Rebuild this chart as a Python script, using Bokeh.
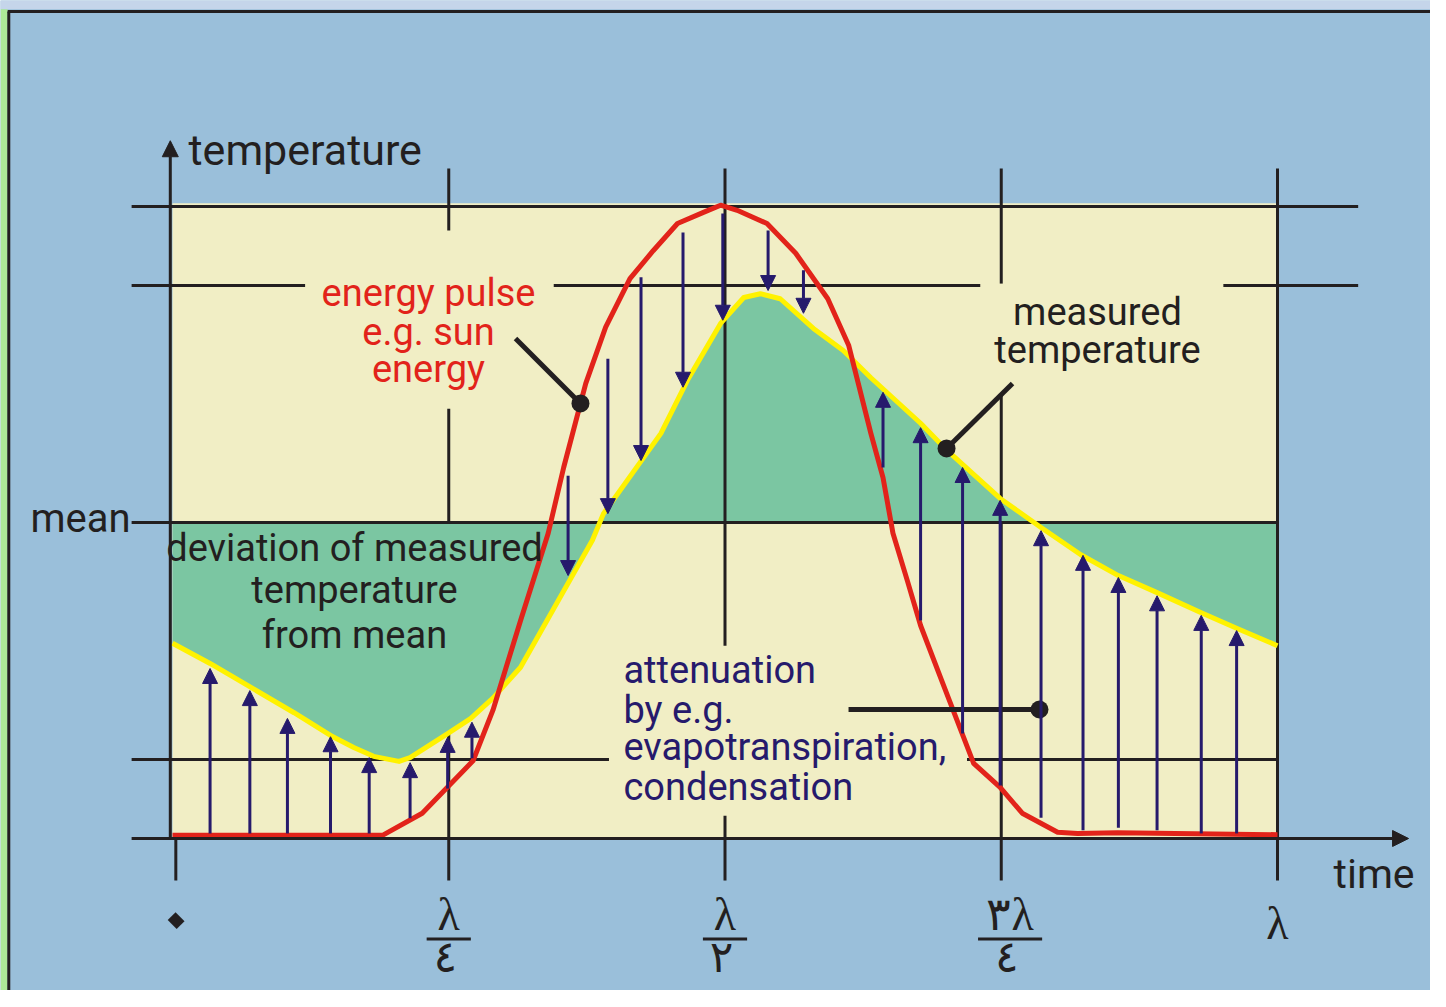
import math
from bokeh.plotting import figure
from bokeh.models import Range1d, ColumnDataSource, Arrow, NormalHead
from bokeh.core.properties import value
from bokeh.embed import file_html
from bokeh.resources import INLINE

# ---------------- data (time as fraction of the period λ, temperature in arbitrary units) -------------
pulse_t = [0.0, 0.190, 0.226, 0.272, 0.290, 0.315, 0.340, 0.354, 0.374, 0.392, 0.414, 0.435,
           0.457, 0.481, 0.496, 0.511, 0.538, 0.564, 0.593, 0.612, 0.632, 0.643, 0.652, 0.665,
           0.677, 0.695, 0.725, 0.749, 0.769, 0.801, 0.819, 0.855, 1.0]
pulse_v = [0.5, 0.5, 4.0, 12.3, 20.3, 34.5, 48.3, 58.7, 72.0, 80.9, 88.6, 93.0,
           97.3, 99.1, 100.2, 99.4, 97.3, 92.6, 85.4, 78.0, 64.1, 57.1, 48.3, 40.8,
           33.7, 25.5, 11.9, 8.1, 4.0, 1.0, 0.8, 0.9, 0.6]

meas_t = [0.0, 0.034, 0.071, 0.110, 0.143, 0.164, 0.182, 0.205, 0.215, 0.249, 0.270, 0.290,
          0.315, 0.338, 0.380, 0.390, 0.442, 0.466, 0.496, 0.517, 0.532, 0.550, 0.580, 0.607,
          0.632, 0.677, 0.701, 0.749, 0.786, 0.822, 0.856, 0.891, 0.930, 0.964, 1.0]
meas_v = [30.9, 27.7, 23.9, 19.9, 16.3, 14.4, 13.0, 12.2, 12.8, 16.6, 19.0, 22.2,
          27.1, 34.2, 47.2, 51.4, 64.1, 72.5, 81.5, 85.6, 86.2, 85.4, 80.7, 77.2,
          72.9, 65.7, 61.4, 53.8, 49.2, 44.9, 41.6, 38.9, 35.8, 33.2, 30.5]

mean_level = 50.0

arrow_t = [0.034, 0.070, 0.104, 0.143, 0.178, 0.215, 0.249, 0.271,
           0.358, 0.394, 0.424, 0.462, 0.498, 0.539, 0.571,
           0.643, 0.677, 0.715, 0.749, 0.786, 0.824, 0.856, 0.891, 0.931, 0.963]
arrow_from = [0.8, 0.8, 0.8, 0.8, 0.8, 3.2, 7.9, 12.7,
              57.4, 75.9, 88.8, 95.9, 98.9, 96.2, 89.9,
              58.7, 34.5, 16.6, 8.4, 3.3, 1.3, 1.7, 1.3, 0.8, 0.8]
arrow_to = [26.9, 23.4, 19.0, 16.1, 12.8, 12.0, 16.0, 18.4,
            41.6, 51.4, 59.8, 71.4, 82.0, 86.7, 83.1,
            70.6, 65.0, 58.7, 53.5, 48.7, 44.8, 41.3, 38.4, 35.3, 32.9]

tick_t = [0.0, 0.25, 0.5, 0.75, 1.0]
tick_labels = ["٠", "λ/٤", "λ/٢", "٣λ/٤", "λ"]

grid_levels = [0.0, 12.5, 50.0, 87.5, 100.0]

# ---------------- styles -------------
BLUE = "#9abfda"
BEIGE = "#f1eec5"
GREEN = "#7bc6a2"
YELLOW = "#fff200"
RED = "#e2231a"
NAVY = "#261a6c"
INK = "#231f20"
FONT = value("Roboto")
PX_PER_UNIT = 6.32          # vertical scale used to lift text baselines by a fraction of the font size

X0, X1 = -0.15566, 1.13846
Y0, Y1 = -24.05, 132.59

p = figure(width=1430, height=990, x_range=Range1d(X0, X1), y_range=Range1d(Y0, Y1),
           output_backend="svg", toolbar_location=None,
           x_axis_location=None, y_axis_location=None, min_border=0,
           background_fill_color=BLUE, border_fill_color=BLUE, outline_line_color=None)
p.grid.visible = False

# surrounding strips and frame edges of the illustration
p.quad(left=[X0], right=[X1], bottom=[131.2], top=[Y1], fill_color="#c5d5ea", line_color=None)
p.quad(left=[X0], right=[X0 + 0.0065], bottom=[Y0], top=[131.2], fill_color="#aeea98", line_color=None)
p.segment(x0=[X0 + 0.0065, X0 + 0.0075], y0=[130.85, Y0], x1=[X1, X0 + 0.0075], y1=[130.85, 130.85],
          line_color=INK, line_width=3)

# plot area
p.quad(left=[0], right=[1.0], bottom=[grid_levels[0]], top=[grid_levels[-1] + 0.5],
       fill_color=BEIGE, line_color=None)

# grid lines beneath the deviation fill (gaps leave room for the labels)
L, R, RR = -0.037, 1.0, 1.073
VTOP, VBOT = 106.0, -6.65
p.segment(x0=[L, L, 0.345, 0.951, L, 0.719],
          x1=[RR, 0.120, 0.731, RR, 0.395, R],
          y0=[grid_levels[4], grid_levels[3], grid_levels[3], grid_levels[3], grid_levels[1], grid_levels[1]],
          y1=[grid_levels[4], grid_levels[3], grid_levels[3], grid_levels[3], grid_levels[1], grid_levels[1]],
          line_color=INK, line_width=3)
p.segment(x0=[tick_t[1], tick_t[1], tick_t[3], tick_t[3]],
          x1=[tick_t[1], tick_t[1], tick_t[3], tick_t[3]],
          y0=[VTOP, 68.0, VTOP, 70.3], y1=[96.2, VBOT, 87.8, VBOT],
          line_color=INK, line_width=3)

# deviation of measured temperature from the mean
p.varea(x=meas_t, y1=[mean_level] * len(meas_t), y2=meas_v, fill_color=GREEN)

# grid lines above the fill
p.segment(x0=[L, tick_t[2], tick_t[2], tick_t[4], tick_t[0] + 0.003],
          x1=[R, tick_t[2], tick_t[2], tick_t[4], tick_t[0] + 0.003],
          y0=[mean_level, VTOP, 3.6, VTOP, grid_levels[0]],
          y1=[mean_level, 30.5, VBOT, VBOT, VBOT],
          line_color=INK, line_width=3)

# curves
p.line(meas_t, meas_v, line_color=YELLOW, line_width=5, line_join="round")
p.line(pulse_t, pulse_v, line_color=RED, line_width=5, line_join="round")

# attenuation arrows
asrc = ColumnDataSource(dict(x=arrow_t, y0=arrow_from, y1=arrow_to))
p.add_layout(Arrow(end=NormalHead(size=15, fill_color=NAVY, line_color=NAVY, line_width=1),
                   x_start="x", y_start="y0", x_end="x", y_end="y1", source=asrc,
                   line_color=NAVY, line_width=3))

# axes with arrow heads
p.add_layout(Arrow(end=NormalHead(size=16, fill_color=INK, line_color=INK, line_width=1),
                   x_start=L, y_start=grid_levels[0], x_end=1.1186, y_end=grid_levels[0],
                   line_color=INK, line_width=3))
p.add_layout(Arrow(end=NormalHead(size=16, fill_color=INK, line_color=INK, line_width=1),
                   x_start=-0.002, y_start=grid_levels[0], x_end=-0.002, y_end=110.4,
                   line_color=INK, line_width=3))

# leader lines with dots
p.segment(x0=[0.3104, 0.7602, 0.6118], y0=[79.11, 71.99, 20.41],
          x1=[0.3692, 0.7005, 0.7846], y1=[68.83, 61.71, 20.41],
          line_color=INK, line_width=5)
p.scatter(x=[0.3692, 0.7005, 0.7846], y=[68.83, 61.71, 20.41], size=18,
          fill_color=INK, line_color=None)


def put(x, y, txt, size, color, font, align="left", baseline="alphabetic", angle=0.0, lift=0.36):
    """Place a text with its visual baseline at y (lifted by a fraction of the font size)."""
    p.text(x=[x], y=[y + lift * size / PX_PER_UNIT], text=[txt], text_font=font,
           text_font_size=f"{size}px", text_color=color, text_align=align,
           text_baseline=baseline, angle=angle)


# tick labels
for t, lab in zip(tick_t, tick_labels):
    if "/" in lab:
        num, den = lab.split("/")
        c = t if len(num) == 1 else t + 0.008
        half = 0.02 if len(num) == 1 else 0.029
        p.segment(x0=[c - half], x1=[c + half], y0=[-15.9], y1=[-15.9], line_color=INK, line_width=3)
        put(c, -14.6, num, 46, INK, value("Liberation Serif"), "center")
        put(c - 0.003, -21.2, den, 44, INK, value("DejaVu Sans"), "center")
    elif lab == "λ":
        put(t, -16.0, lab, 46, INK, value("Liberation Serif"), "center")
    else:
        put(t - 0.001, -13.4, lab, 104, INK, value("DejaVu Sans"), "center", "middle",
            angle=math.pi / 4, lift=0.07)

# texts
put(0.0145, 106.5, "temperature", 43, INK, FONT)
put(1.0507, -7.9, "time", 41, INK, FONT)
put(-0.1285, 48.3, "mean", 40, INK, FONT)

for y, s in zip([43.8, 37.2, 30.1], ["deviation of measured", "temperature", "from mean"]):
    put(0.1647, y, s, 38, INK, FONT, "center")
for y, s in zip([84.2, 78.0, 72.15], ["energy pulse", "e.g. sun", "energy"]):
    put(0.2317, y, s, 38, RED, FONT, "center")
for y, s in zip([81.2, 75.2], ["measured", "temperature"]):
    put(0.8371, y, s, 38, INK, FONT, "center")
for y, s in zip([24.5, 18.2, 12.3, 6.0], ["attenuation", "by e.g.", "evapotranspiration,", "condensation"]):
    put(0.4081, y, s, 38, NAVY, FONT, "left")

open("out.html", "w").write(file_html(p, INLINE))
